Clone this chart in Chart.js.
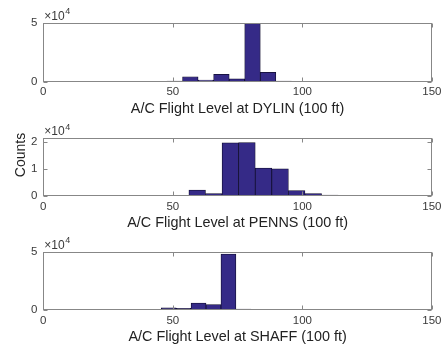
<!DOCTYPE html>
<html><head><meta charset="utf-8">
<script src="https://cdn.jsdelivr.net/npm/chart.js@4"></script>
<style>
html,body{margin:0;padding:0;background:#fff;}
#wrap{position:relative;width:445px;height:347px;overflow:hidden;}
canvas{position:absolute;left:0;}
</style></head><body>
<div id="wrap">
<canvas id="c1" width="445" height="120" style="top:0px"></canvas>
<canvas id="c2" width="445" height="120" style="top:115px"></canvas>
<canvas id="c3" width="445" height="117" style="top:230px"></canvas>
</div>
<script>
// ---- data (bin centres in units of 100 ft, counts) ----
const dylinBins   = [50.75, 56.75, 62.75, 68.75, 74.75, 80.75, 86.75, 92.75, 98.75, 104.75, 110.75];
const dylinCounts = [500, 4200, 1400, 6200, 2500, 49400, 7900, 600, 200, 80, 50];

const pennsBins   = [59.4, 65.8, 72.2, 78.6, 85.0, 91.4, 97.8, 104.2, 110.6, 117.0, 123.4, 129.8];
const pennsCounts = [2200, 900, 19600, 19700, 10300, 10000, 2000, 900, 300, 100, 60, 30];

const shaffBins   = [42.615, 48.385, 54.155, 59.925, 65.695, 71.465, 77.235, 83.005, 88.775];
const shaffCounts = [80, 1800, 1400, 6000, 4700, 48300, 800, 200, 80];

const xTicks      = [0, 50, 100, 150];
const yTicksWide  = [0, 50000];
const yTicksPenns = [0, 10000, 20000];
const yMaxWide    = 50000;
const yMaxPenns   = 21250;

const xTitles = ['A/C Flight Level at DYLIN (100 ft)', 'A/C Flight Level at PENNS (100 ft)', 'A/C Flight Level at SHAFF (100 ft)'];
const yTitle  = 'Counts';
const expLabel = ['×10', '4'];

// ---- styling ----
const FONT = '"Liberation Sans", Arial, Helvetica, sans-serif';
const BAR_FILL = 'rgb(53,42,135)';
const BAR_EDGE = '#100d2e';
const AXIS_GRAY = '#878787';
const TEXT = '#3a3a3a';

const boxPlugin = {
  id: 'matlabBox',
  afterDraw(chart, args, opts) {
    const {ctx, chartArea: a, scales: {x, y}} = chart;
    const L = Math.round(a.left) + 0.5, R = Math.round(a.right) - 0.5;
    const T = Math.round(a.top) + 0.5, B = Math.round(a.bottom) - 0.5;
    ctx.save();
    ctx.strokeStyle = AXIS_GRAY;
    ctx.lineWidth = 1;
    ctx.strokeRect(L, T, R - L, B - T);
    ctx.beginPath();
    x.ticks.forEach(t => {
      const px = Math.round(x.getPixelForValue(t.value)) + 0.5;
      ctx.moveTo(px, B); ctx.lineTo(px, B - 4);
      ctx.moveTo(px, T); ctx.lineTo(px, T + 4);
    });
    y.ticks.forEach(t => {
      const py = Math.round(y.getPixelForValue(t.value)) + 0.5;
      ctx.moveTo(L, py); ctx.lineTo(L + 4, py);
      ctx.moveTo(R, py); ctx.lineTo(R - 4, py);
    });
    ctx.stroke();
    // exponent label
    ctx.fillStyle = TEXT;
    ctx.textAlign = 'left';
    ctx.textBaseline = 'middle';
    ctx.font = '12px ' + FONT;
    ctx.fillText(expLabel[0], a.left + 1, a.top - 6.5);
    const w = ctx.measureText(expLabel[0]).width;
    ctx.font = '9px ' + FONT;
    ctx.fillText(expLabel[1], a.left + 1 + w + 0.5, a.top - 11);
    if (opts.ylabel) {
      ctx.save();
      ctx.translate(opts.ylabel.x, opts.ylabel.y);
      ctx.rotate(-Math.PI / 2);
      ctx.textAlign = 'center';
      ctx.textBaseline = 'middle';
      ctx.font = '14px ' + FONT;
      ctx.fillStyle = '#222';
      ctx.fillText(opts.ylabel.text, 0, 0);
      ctx.restore();
    }
    ctx.restore();
  }
};

function makePanel(id, bins, counts, yTicks, yMax, title, g) {
  new Chart(document.getElementById(id), {
    type: 'bar',
    data: {
      datasets: [{
        data: bins.map((b, i) => ({x: b, y: counts[i]})),
        backgroundColor: BAR_FILL,
        borderColor: BAR_EDGE,
        borderWidth: 0.8,
        borderSkipped: false,
        barPercentage: 1,
        categoryPercentage: 1,
        grouped: false
      }]
    },
    options: {
      responsive: false,
      animation: false,
      devicePixelRatio: 1,
      events: [],
      layout: {padding: {top: g.plotTop, right: 11.7, left: 0, bottom: 0}},
      plugins: {
        legend: {display: false},
        tooltip: {enabled: false},
        matlabBox: {ylabel: g.ylabel || null}
      },
      scales: {
        x: {
          type: 'linear', min: 0, max: 150, offset: false,
          grid: {display: false, drawTicks: false, offset: false},
          border: {display: false},
          afterBuildTicks: s => { s.ticks = xTicks.map(v => ({value: v})); },
          ticks: {padding: 3.5, color: TEXT, font: {family: FONT, size: 11.5}, maxRotation: 0, autoSkip: false},
          title: {display: true, text: title, color: '#222', font: {family: FONT, size: 14.4}, padding: {top: 0, bottom: g.titlePad}},
          afterFit: s => { s.height = g.axisH; }
        },
        y: {
          type: 'linear', min: 0, max: yMax,
          grid: {display: false, drawTicks: false},
          border: {display: false},
          afterBuildTicks: s => { s.ticks = yTicks.map(v => ({value: v})); },
          ticks: {padding: 6, color: TEXT, font: {family: FONT, size: 11.5}, callback: v => String(v / 10000)},
          afterFit: s => { s.width = 43.3; }
        }
      }
    },
    plugins: [boxPlugin]
  });
}

makePanel('c1', dylinBins, dylinCounts, yTicksWide, yMaxWide, xTitles[0],
  {plotTop: 22.7, axisH: 38.3, titlePad: 2.4});
makePanel('c2', pennsBins, pennsCounts, yTicksPenns, yMaxPenns, xTitles[1],
  {plotTop: 23.3, axisH: 39, titlePad: 3.4, ylabel: {text: yTitle, x: 21, y: 40}});
makePanel('c3', shaffBins, shaffCounts, yTicksWide, yMaxWide, xTitles[2],
  {plotTop: 22, axisH: 37, titlePad: 1.7});
</script>
</body></html>
